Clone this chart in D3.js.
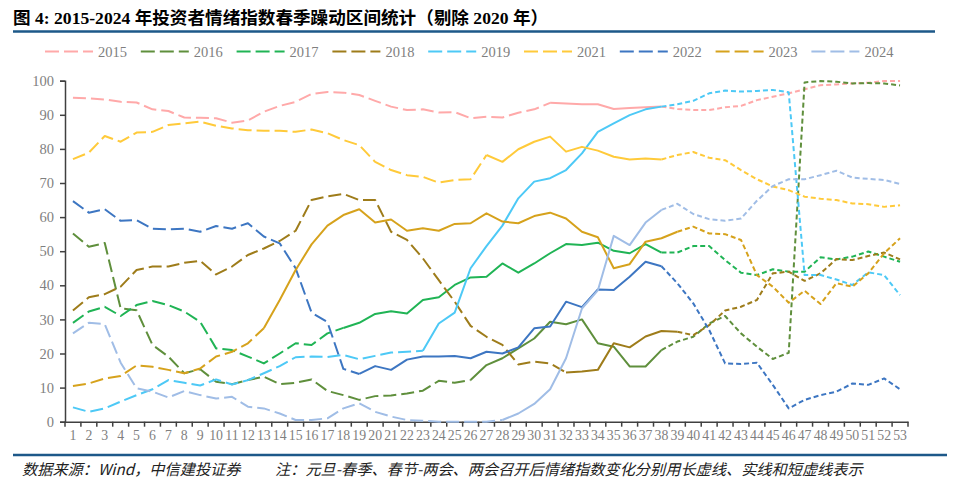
<!DOCTYPE html>
<html><head><meta charset="utf-8">
<script src="https://cdn.jsdelivr.net/npm/d3@7/dist/d3.min.js"></script>
<style>body{margin:0;background:#fff;}svg{display:block;}</style>
</head><body>
<svg id="c" width="960" height="488"></svg>
<script>
const categories = [1,2,3,4,5,6,7,8,9,10,11,12,13,14,15,16,17,18,19,20,21,22,23,24,25,26,27,28,29,30,31,32,33,34,35,36,37,38,39,40,41,42,43,44,45,46,47,48,49,50,51,52,53];
const yTicks = [0,10,20,30,40,50,60,70,80,90,100];
const seriesNames = ["2015","2016","2017","2018","2019","2021","2022","2023","2024"];
const seriesColors = ["#ffa9a9","#5f8f3c","#20b455","#9e7c1a","#4dc9f6","#ffca3a","#3d76c2","#d6a21c","#a0bde6"];
const y2015 = [95.0,94.8,94.5,93.8,93.6,91.6,91.1,89.2,89.1,89.0,87.7,88.3,90.9,92.6,93.8,96.1,96.7,96.5,95.8,94.1,92.4,91.4,91.6,90.7,90.8,89.0,89.4,89.2,90.6,91.6,93.5,93.3,93.1,93.1,91.7,92.0,92.2,92.4,91.7,91.4,91.4,92.2,92.6,94.3,95.3,96.3,97.5,98.7,98.9,99.2,99.4,99.9,99.9];
const y2016 = [55.2,51.3,52.4,33.2,32.7,22.5,19.1,14.2,15.4,11.7,11.0,12.2,13.2,11.0,11.4,12.4,9.0,7.8,6.4,7.5,7.7,8.3,9.1,12.0,11.4,12.2,16.6,18.6,21.5,24.4,29.3,28.6,30.0,23.0,22.0,16.2,16.2,21.0,23.5,24.9,28.8,31.0,25.9,22.0,18.4,20.2,99.5,99.9,99.7,99.2,99.3,99.2,98.6];
const y2017 = [29.0,32.3,33.7,31.0,34.2,35.4,34.2,32.3,29.3,21.5,21.0,19.1,17.1,20.0,23.0,22.5,25.9,27.5,29.0,31.6,32.4,31.7,35.7,36.5,40.1,42.3,42.5,46.4,43.7,46.4,49.4,52.1,51.8,52.5,50.1,49.4,52.1,49.6,49.6,51.5,51.5,47.4,43.7,43.0,44.7,44.0,44.0,48.2,47.6,48.4,49.9,48.4,46.9];
const y2018 = [32.6,36.5,37.4,39.6,44.5,45.5,45.5,46.6,47.2,43.2,45.5,48.9,50.8,53.0,56.0,65.0,66.1,66.8,65.0,65.0,55.7,53.3,47.9,41.5,35.2,28.1,24.9,22.5,16.8,17.6,17.1,14.4,14.7,15.2,23.0,21.8,25.0,26.6,26.4,25.4,28.3,32.6,33.7,35.7,43.5,44.0,41.3,43.5,47.7,47.4,48.6,49.6,47.6];
const y2019 = [4.2,2.9,3.9,5.9,7.8,9.5,12.2,11.4,10.6,12.4,10.9,12.2,14.2,16.3,18.9,19.1,19.0,19.6,18.3,19.3,20.3,20.5,20.8,28.8,32.0,45.0,51.5,57.5,65.5,70.4,71.4,73.8,78.7,85.0,87.5,89.9,91.6,92.4,93.1,94.1,96.3,97.1,96.8,97.0,97.3,96.6,43.0,43.0,41.7,40.1,43.8,43.0,37.1];
const y2021 = [77.0,78.9,83.8,82.1,84.8,85.0,87.0,87.5,88.0,86.8,86.0,85.5,85.3,85.3,85.0,85.7,84.6,82.6,81.1,76.2,73.8,72.3,71.8,70.1,70.9,71.1,78.2,76.2,79.9,82.1,83.6,79.2,80.6,79.5,77.7,76.9,77.2,76.9,78.2,79.1,77.4,76.7,73.8,71.1,69.0,67.9,66.0,65.4,65.0,64.0,63.8,63.0,63.5];
const y2022 = [64.7,61.3,62.3,58.9,59.1,56.6,56.4,56.6,55.7,57.4,56.6,58.2,54.3,52.3,45.0,32.0,29.2,15.5,14.0,16.3,15.2,18.2,19.1,19.1,19.3,18.6,20.5,20.0,21.8,27.4,27.9,35.2,33.6,38.8,38.6,42.5,46.9,45.6,40.6,34.7,26.9,17.1,16.9,17.3,10.8,3.9,6.4,7.8,8.8,11.2,10.8,12.7,9.5];
const y2023 = [10.5,11.2,12.7,13.4,16.5,16.1,15.2,14.2,15.6,19.1,20.5,23.0,27.4,35.7,44.5,52.0,57.5,60.6,62.3,58.4,59.3,56.0,56.7,56.0,58.0,58.2,61.1,58.7,58.2,60.3,61.3,59.6,55.7,54.1,45.0,46.2,52.8,53.8,55.7,57.2,55.2,55.0,53.3,43.0,39.6,34.9,38.4,34.5,40.6,39.6,43.5,49.4,53.8];
const y2024 = [25.9,29.0,28.6,17.3,9.8,8.8,7.1,9.0,7.8,6.8,7.3,4.4,3.9,2.4,0.5,0.5,1.0,3.9,5.4,2.9,1.5,0.5,0.3,0.0,0.0,0.0,0.0,0.5,2.4,5.2,9.5,18.6,33.2,38.5,54.5,51.8,58.4,62.1,63.9,60.9,59.4,58.9,59.6,64.8,69.1,71.1,71.1,72.3,73.6,71.6,71.2,70.9,69.7];
// period boundaries (category where 春节 starts, category where 两会 starts)
const springStart = [31,26,18,32,23,27,19,13,28];
const npcStart    = [38,38,38,39,38,38,38,39,38];
const seriesValues = [y2015,y2016,y2017,y2018,y2019,y2021,y2022,y2023,y2024];

const svg = d3.select("#c");
const serif = "'Liberation Serif','Times New Roman',serif";
const cjk = "'Liberation Serif','Noto Sans CJK SC',sans-serif";

// title
svg.append("text").attr("x",13).attr("y",24)
  .attr("font-family",cjk).attr("font-weight","bold").attr("font-size",17.6).attr("fill","#000")
  .text("图 4: 2015-2024 年投资者情绪指数春季躁动区间统计（剔除 2020 年）");
svg.append("line").attr("x1",13).attr("x2",935).attr("y1",31.5).attr("y2",31.5)
  .attr("stroke","#1d5889").attr("stroke-width",2.7);

const x = d3.scaleBand().domain(categories).range([65,908]).padding(0);
const y = d3.scaleLinear().domain([0,100]).range([421.7,80.7]);
const cx = c => x(c) + x.bandwidth()/2;

// legend
const lg = svg.append("g");
seriesNames.forEach((n,i)=>{
  const lx = 45 + i*95.8;
  lg.append("line").attr("x1",lx).attr("x2",lx+48).attr("y1",51.5).attr("y2",51.5)
    .attr("stroke",seriesColors[i]).attr("stroke-width",2).attr("stroke-dasharray","14,5");
  lg.append("text").attr("x",lx+53).attr("y",56.5).attr("font-family",serif)
    .attr("font-size",14.5).attr("fill","#7f7f7f").text(n);
});

// axes
const ya = svg.append("g").attr("transform","translate(65,0)")
  .call(d3.axisLeft(y).tickValues(yTicks).tickSize(5).tickPadding(6));
ya.select(".domain").attr("stroke","#404040").attr("stroke-width",1.5);
ya.selectAll(".tick line").attr("stroke","#404040").attr("stroke-width",1.5);
ya.selectAll(".tick text").attr("font-family",serif).attr("font-size",14.5).attr("fill","#7f7f7f");

const xa = svg.append("g").attr("transform","translate(0,421.7)")
  .call(d3.axisBottom(x).tickSize(0).tickPadding(9));
xa.select(".domain").attr("stroke","#404040").attr("stroke-width",1.5);
xa.selectAll(".tick text").attr("font-family",serif).attr("font-size",13.8).attr("fill","#7f7f7f");
const edges = categories.map(c=>x(c)).concat([x.range()[1]]);
xa.selectAll("line.edge").data(edges).enter().append("line").attr("class","edge")
  .attr("x1",d=>d).attr("x2",d=>d).attr("y1",0).attr("y2",5)
  .attr("stroke","#404040").attr("stroke-width",1.5);

// lines
const line = d3.line().x(d=>cx(d.c)).y(d=>y(d.v));
const plot = svg.append("g");
seriesValues.forEach((vals,i)=>{
  const pts = categories.map((c,k)=>({c:c,v:vals[k]}));
  const a = springStart[i], b = npcStart[i];
  const segs = [
    {d: pts.filter(p=>p.c<=a), dash:"13,5"},
    {d: pts.filter(p=>p.c>=a && p.c<=b), dash:null},
    {d: pts.filter(p=>p.c>=b), dash:"5,3"}
  ];
  segs.forEach(s=>{
    const p = plot.append("path").attr("d",line(s.d)).attr("fill","none")
      .attr("stroke",seriesColors[i]).attr("stroke-width",2).attr("stroke-linejoin","round");
    if(s.dash) p.attr("stroke-dasharray",s.dash);
  });
});

// footer
svg.append("line").attr("x1",13).attr("x2",947).attr("y1",455).attr("y2",455)
  .attr("stroke","#1d5889").attr("stroke-width",2.5);
svg.append("text").attr("x",22).attr("y",475).attr("font-family","'Noto Sans CJK SC',sans-serif")
  .attr("font-style","italic").attr("font-size",15.2).attr("fill","#222").text("数据来源：Wind，中信建投证券");
svg.append("text").attr("x",275).attr("y",475).attr("font-family","'Noto Sans CJK SC',sans-serif")
  .attr("font-style","italic").attr("font-size",15.2).attr("fill","#222")
  .text("注：元旦-春季、春节-两会、两会召开后情绪指数变化分别用长虚线、实线和短虚线表示");
</script>
</body></html>
